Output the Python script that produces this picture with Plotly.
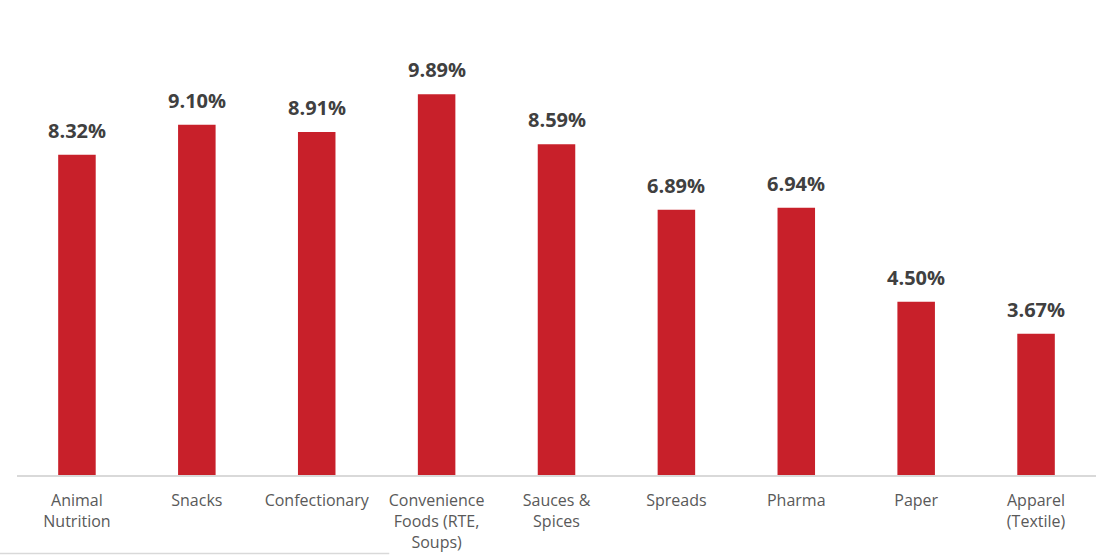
import plotly.graph_objects as go

# Category labels (line breaks as drawn under the axis)
categories = [
    "Animal<br>Nutrition",
    "Snacks",
    "Confectionary",
    "Convenience<br>Foods (RTE,<br>Soups)",
    "Sauces &amp;<br>Spices",
    "Spreads",
    "Pharma",
    "Paper",
    "Apparel<br>(Textile)",
]
# Growth rate per segment, in percent
values = [8.32, 9.10, 8.91, 9.89, 8.59, 6.89, 6.94, 4.50, 3.67]
value_labels = [f"{v:.2f}%" for v in values]

BAR_COLOR = "#C8202A"

fig = go.Figure(
    go.Bar(
        x=categories,
        y=values,
        marker=dict(color=BAR_COLOR, line=dict(width=0)),
        hoverinfo="skip",
    )
)

# Bold value labels above each bar
for cat, v, lab in zip(categories, values, value_labels):
    fig.add_annotation(
        x=cat, y=v, text=f"<b>{lab}</b>",
        showarrow=False, yanchor="bottom", yshift=9,
        font=dict(family="Open Sans", size=20, color="#404040"),
    )

# Thin rounded panel edge along the lower left
fig.add_shape(
    type="line", xref="paper", yref="paper",
    x0=-0.02, x1=0.345, y0=-0.17, y1=-0.17,
    line=dict(color="#d9d9d9", width=1.5),
)

fig.update_layout(
    width=1102, height=558,
    margin=dict(l=17, r=6, t=13, b=83),
    paper_bgcolor="white", plot_bgcolor="white",
    bargap=0.687,
    showlegend=False,
    font=dict(family="Open Sans", size=16, color="#595959"),
)
fig.update_xaxes(
    showline=True, linecolor="#d9d9d9", linewidth=2,
    ticks="outside", ticklen=10, tickcolor="rgba(0,0,0,0)",
    showgrid=False, tickangle=0,
    tickfont=dict(family="Open Sans", size=16, color="#595959"),
)
fig.update_yaxes(
    range=[0, 12], visible=False, showgrid=False, zeroline=False,
)

fig.write_html("out.html")
